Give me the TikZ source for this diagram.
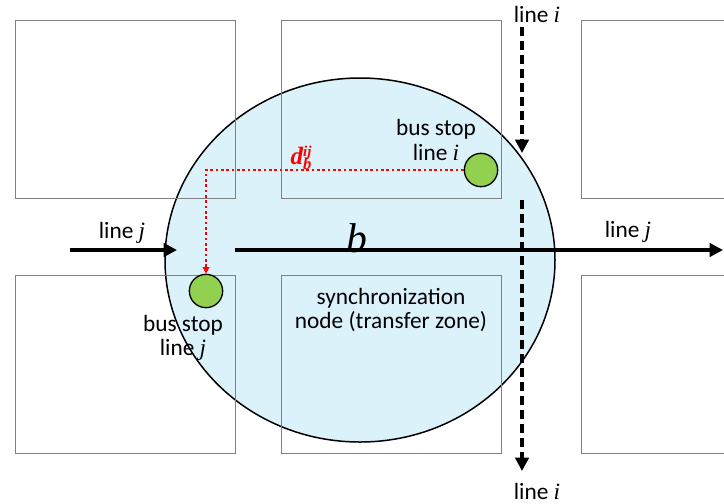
\documentclass[tikz,border=0pt]{standalone}
\usepackage{fontspec}
\setmainfont{Carlito}
\newfontfamily\serif{Liberation Serif}
\usetikzlibrary{arrows.meta,shapes.geometric}
\definecolor{zoneblue}{RGB}{220,242,251}
\definecolor{stopgreen}{RGB}{146,208,80}
\newcommand{\vi}{{\serif\itshape i}}
\newcommand{\vj}{{\serif\itshape j}}

\begin{document}
\begin{tikzpicture}[x=0.6pt,y=-0.6pt,
    block/.style={draw=gray,line width=0.7pt,anchor=north west,inner sep=0pt,
      minimum width=132pt,minimum height=106.8pt},
    zone/.style={ellipse,draw,line width=0.9pt,fill=zoneblue,inner sep=0pt,
      minimum width=234pt,minimum height=218.4pt},
    stop/.style={circle,draw,line width=0.8pt,fill=stopgreen,inner sep=0pt,minimum size=20pt},
    lbl/.style={font=\fontsize{14}{14.5}\selectfont,align=center,inner sep=0pt},
    busline/.style={line width=1.9pt,-{Triangle[length=8pt,width=8pt]}},
    dashline/.style={line width=2.4pt,dash pattern=on 5.4pt off 3pt,-{Triangle[length=8pt,width=8pt]}},
    walk/.style={red,line width=1.2pt,dash pattern=on 1.6pt off 1.6pt,-{Triangle[length=4pt,width=4pt]}}]
    \useasboundingbox (0,0) rectangle (724,503);
    \clip (0,0) rectangle (724,503);
    % transfer zone
    \node [zone] (zone) at (360,260) {};
    % city blocks
    \node [block] (tl) at (15,20) {};
    \node [block] (tm) at (281,20) {};
    \node [block] (tr) at (581,20) {};
    \node [block] (bl) at (15,275) {};
    \node [block] (bm) at (281,275) {};
    \node [block] (br) at (581,275) {};
    % bus stops
    \node [stop] (stopi) at (481,170) {};
    \node [stop] (stopj) at (206,291) {};
    \node [lbl] (stopitxt) at (436,140) {bus stop\\line \vi};
    \node [lbl] (stopjtxt) at (183,338) {bus stop\\line \vj};
    \node [lbl] (synctxt) at (391,310) {synchronization\\node (transfer zone)};
    % line j
    \coordinate (jin) at (70,250);
    \coordinate (jgap) at (177,250);
    \coordinate (jstart) at (235,250);
    \coordinate (jout) at (723,250);
    \draw [busline] (jin) -- (jgap);
    \draw [busline] (jstart) -- (jout);
    \node [lbl] (jleft) at (122,233) {line \vj};
    \node [lbl] (jright) at (628,232) {line \vj};
    \node [inner sep=0pt] (b) at (357,238) {\fontsize{25}{26}\selectfont\serif\itshape b};
    % line i
    \coordinate (iin) at (522,27);
    \coordinate (igap) at (522,153);
    \coordinate (istart) at (522,200);
    \coordinate (iout) at (522,471);
    \draw [dashline] (iin) -- (igap);
    \draw [dashline] (istart) -- (iout);
    \node [lbl] (itop) at (537,14) {line \vi};
    \node [lbl] (ibot) at (537,491) {line \vi};
    % walking distance
    \draw [walk] (stopi.west) -| (stopj.north);
    \node [red,inner sep=0pt] (dij) at (301,158) {\fontsize{15}{16}\selectfont\serif\bfseries\itshape
      d\rlap{\raisebox{5pt}{\fontsize{9}{9}\selectfont ij}}\raisebox{-3pt}{\fontsize{10}{10}\selectfont b}};
\end{tikzpicture}
\end{document}
